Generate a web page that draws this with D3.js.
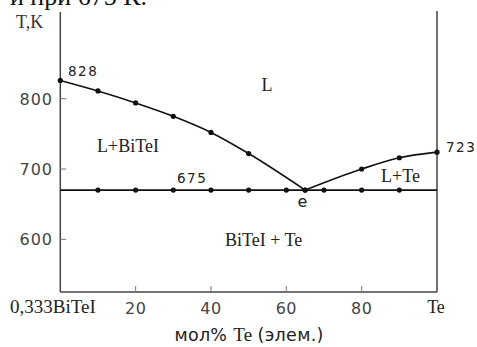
<!DOCTYPE html>
<html>
<head>
<meta charset="utf-8">
<script src="https://cdn.jsdelivr.net/npm/d3@7"></script>
<style>
  body { margin: 0; background: #fff; }
  svg { display: block; }
</style>
</head>
<body>
<svg width="477" height="347"></svg>
<script>
// liquidus BiTeI side (x = mol% Te, T in K)
var liqLeftX = [0, 10, 20, 30, 40, 50, 65];
var liqLeftT = [826, 811, 794, 775, 752, 722, 670];
// liquidus Te side
var liqRightX = [65, 80, 90, 100];
var liqRightT = [670, 700, 716, 724];
// eutectic horizontal
var eutX = [10, 20, 30, 40, 50, 60, 65, 70, 80, 90];
var eutT = 670;
var yTicks = [600, 700, 800];
var xTicks = [20, 40, 60, 80];

var svg = d3.select("svg");
var serif = "Liberation Serif, Times New Roman, serif";
var sans = "DejaVu Sans, sans-serif";

var x = d3.scaleLinear().domain([0, 100]).range([60.3, 437]);
var y = d3.scaleLinear().domain([600, 800]).range([239.3, 98.7]);

// cropped caption line at the very top
svg.append("text").attr("x", 147).attr("y", 5).attr("text-anchor", "end")
  .attr("font-family", serif).attr("font-size", 26).attr("fill", "#111")
  .text("и при 675 К.");

var axCol = "#444";
// left axis
svg.append("line").attr("x1", x(0)).attr("x2", x(0)).attr("y1", 12).attr("y2", 292)
  .attr("stroke", axCol).attr("stroke-width", 1.5);
// right axis
svg.append("line").attr("x1", x(100)).attr("x2", x(100)).attr("y1", 11).attr("y2", 292)
  .attr("stroke", axCol).attr("stroke-width", 1.5);
// bottom axis
svg.append("line").attr("x1", x(0)).attr("x2", x(100)).attr("y1", 292).attr("y2", 292)
  .attr("stroke", axCol).attr("stroke-width", 1.5);

// y ticks (inward) + labels
yTicks.forEach(function(t) {
  svg.append("line").attr("x1", x(0)).attr("x2", x(0) + 6).attr("y1", y(t)).attr("y2", y(t))
    .attr("stroke", "#777").attr("stroke-width", 1);
  svg.append("text").attr("x", 53).attr("y", y(t) + 6).attr("text-anchor", "end")
    .attr("font-family", sans).attr("font-size", 16).attr("letter-spacing", 1)
    .attr("fill", "#444").text(t);
});

// x ticks (inward) + labels
xTicks.forEach(function(t) {
  svg.append("line").attr("x1", x(t)).attr("x2", x(t)).attr("y1", 292).attr("y2", 286)
    .attr("stroke", "#777").attr("stroke-width", 1);
  svg.append("text").attr("x", x(t)).attr("y", 314).attr("text-anchor", "middle")
    .attr("font-family", sans).attr("font-size", 16).attr("letter-spacing", 0.5)
    .attr("fill", "#444").text(t);
});

svg.append("text").attr("x", 10).attr("y", 313)
  .attr("font-family", serif).attr("font-size", 19).attr("fill", "#222").text("0,333BiTeI");
svg.append("text").attr("x", 436).attr("y", 313).attr("text-anchor", "middle")
  .attr("font-family", serif).attr("font-size", 18).attr("fill", "#222").text("Te");

// x title
var xt = svg.append("text").attr("x", 249).attr("y", 341).attr("text-anchor", "middle")
  .attr("fill", "#222").attr("font-size", 17.5).attr("letter-spacing", 0.3);
xt.append("tspan").attr("font-family", sans).text("мол% ");
xt.append("tspan").attr("font-family", serif).attr("font-size", 19).text("Te ");
xt.append("tspan").attr("font-family", sans).text("(элем.)");

// y title
svg.append("text").attr("x", 16).attr("y", 28)
  .attr("font-family", serif).attr("font-size", 18).attr("fill", "#333").text("T,K");

// lines
var line = d3.line().x(function(d) { return x(d[0]); }).y(function(d) { return y(d[1]); })
  .curve(d3.curveMonotoneX);

var left = liqLeftX.map(function(v, i) { return [v, liqLeftT[i]]; });
var right = liqRightX.map(function(v, i) { return [v, liqRightT[i]]; });

svg.append("path").attr("d", line(left)).attr("fill", "none")
  .attr("stroke", "#111").attr("stroke-width", 1.6);
svg.append("path").attr("d", line(right)).attr("fill", "none")
  .attr("stroke", "#111").attr("stroke-width", 1.6);
svg.append("line").attr("x1", x(0)).attr("x2", x(100)).attr("y1", y(eutT)).attr("y2", y(eutT))
  .attr("stroke", "#111").attr("stroke-width", 1.6);

// points
var pts = left.concat(right.slice(1)).concat(eutX.map(function(v) { return [v, eutT]; }));
svg.selectAll(".pt").data(pts).enter().append("circle")
  .attr("cx", function(d) { return x(d[0]); })
  .attr("cy", function(d) { return y(d[1]); })
  .attr("r", 2.6).attr("fill", "#111");

// annotations
function lab(tx, ty, s, font, size, anchor, ls) {
  svg.append("text").attr("x", tx).attr("y", ty).attr("text-anchor", anchor || "start")
    .attr("font-family", font).attr("font-size", size).attr("fill", "#222")
    .attr("letter-spacing", ls || 0).text(s);
}
lab(68, 76, "828", sans, 13.5, "start", 1.5);
lab(446, 152, "723", sans, 13.5, "start", 1.5);
lab(177, 183, "675", sans, 13.5, "start", 1.5);
lab(302.5, 207, "e", sans, 16, "middle");
lab(261.5, 91, "L", serif, 18);
lab(97, 152, "L+BiTeI", serif, 18);
lab(381, 182, "L+Te", serif, 18);
lab(225, 246, "BiTeI + Te", serif, 18);
</script>
</body>
</html>
